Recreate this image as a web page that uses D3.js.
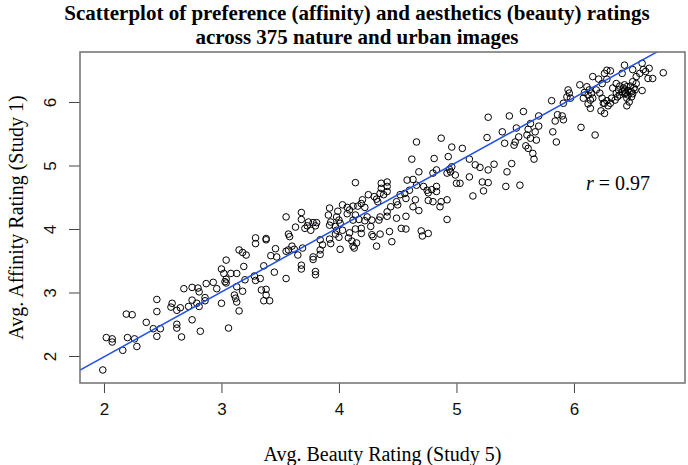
<!DOCTYPE html>
<html><head><meta charset="utf-8">
<script src="https://cdn.jsdelivr.net/npm/d3@7"></script>
<style>body{margin:0;background:#fff}svg{display:block}</style>
</head><body>
<script>
// ---- data: [beauty (Study 5), affinity (Study 1)] ----
const lowImages = [
[1.99,1.78],[2.02,2.29],[2.07,2.27],[2.07,2.22],[2.16,2.09],[2.20,2.29],[2.26,2.27],[2.28,2.15],[2.19,2.66],[2.24,2.65],
[2.36,2.53],[2.42,2.43],[2.48,2.43],[2.45,2.31],[2.45,2.70],[2.45,2.89],[2.58,2.83],[2.57,2.77],[2.62,2.72],[2.65,2.76],
[2.62,2.50],[2.62,2.44],[2.66,2.30],[2.68,3.06],[2.75,3.08],[2.80,3.07],[2.81,3.01],[2.75,2.88],[2.72,2.78],[2.79,2.83],
[2.81,2.78],[2.86,2.92],[2.86,2.87],[2.75,2.57],[2.82,2.39],[2.87,3.14],[2.93,3.16],[2.96,3.06],[3.00,2.83],[3.06,2.44],
[3.00,3.37],[3.04,3.51],[3.02,3.30],[3.04,3.21],[3.03,3.17],[3.04,3.15],[3.08,3.30],[3.13,3.30],[3.11,2.96],[3.12,2.91],
[3.13,2.85],[3.15,2.71],[3.13,3.09],[3.18,3.02],[3.19,3.41],[3.15,3.67],[3.18,3.63],[3.21,3.59],[3.20,3.20],[3.28,3.26],
[3.29,3.19],[3.33,3.22],[3.34,3.04],[3.38,3.05],[3.38,2.96],[3.36,2.87],[3.41,2.87],[3.36,3.42],[3.45,3.32],[3.29,3.77],
[3.38,3.83],[3.42,3.58],[3.46,3.69],[3.47,3.56],[3.29,3.86],[3.38,3.85]
];
const midImages = [
[4.66,5.37],[4.62,5.10],[4.81,5.11],[4.83,4.93],[4.80,4.88],[4.68,4.90],[4.58,4.77],[4.63,4.78],[4.14,4.73],[4.36,4.72],
[4.41,4.74],[4.36,4.64],[4.41,4.67],[4.41,4.59],[4.35,4.56],[4.38,4.54],[4.66,4.69],[4.72,4.67],[4.75,4.61],[4.79,4.62],
[4.76,4.57],[4.83,4.67],[4.83,4.59],[4.60,4.61],[4.56,4.56],[4.52,4.54],[4.49,4.43],[4.50,4.38],[4.57,4.48],[4.65,4.46],
[4.63,4.35],[4.68,4.29],[4.76,4.45],[4.80,4.43],[4.44,4.35],[4.41,4.27],[4.35,4.19],[4.30,4.51],[4.32,4.47],[4.33,4.43],
[4.25,4.54],[4.20,4.46],[4.19,4.40],[4.22,4.34],[4.16,4.36],[4.12,4.36],[4.09,4.30],[4.07,4.34],[4.03,4.38],[3.99,4.28],
[3.92,4.33],[3.91,4.22],[3.93,4.11],[3.98,4.19],[4.00,4.14],[4.01,4.09],[4.07,4.24],[4.12,4.14],[4.14,4.22],[4.17,4.15],
[4.22,4.13],[4.24,4.19],[4.28,4.14],[4.34,4.14],[4.27,4.04],[4.19,4.01],[4.14,4.00],[4.09,3.94],[4.03,3.98],[3.98,3.98],
[3.97,3.92],[4.00,3.87],[4.08,3.86],[4.11,3.81],[4.15,3.78],[4.12,3.73],[4.13,3.70],[4.01,3.68],[4.19,3.93],[4.28,3.91],
[4.29,3.88],[4.35,3.92],[4.32,3.73],[4.43,3.96],[4.45,3.80],[4.53,4.01],[4.57,4.00],[4.57,4.20],[4.49,4.17],[4.41,4.20],
[4.70,3.97],[4.71,3.89],[4.76,3.93],[3.84,3.83],[3.86,3.75],[3.84,3.67],[3.78,3.52],[3.84,3.60],[3.92,3.84],[3.93,3.77],
[3.92,4.06],[3.97,4.04],[3.81,4.10],[3.80,4.05],[3.78,4.10],[3.74,4.11],[3.73,4.05],[3.71,4.01],[3.76,3.98],[3.68,4.26],
[3.68,4.15],[3.63,4.03],[3.57,3.92],[3.55,4.19],[3.58,3.88],[3.60,3.73],[3.57,3.67],[3.55,3.65],[3.62,3.68],[3.69,3.70],
[3.65,3.59],[3.68,3.43],[3.68,3.37],[3.78,3.56],[3.80,3.33],[3.80,3.28],[3.55,3.22],
[4.92,4.15],[4.86,4.35],[4.92,4.46],[4.87,4.43]
];
const highImages = [
[6.76,6.46],[6.67,6.37],[6.63,6.37],[6.64,6.53],[6.58,6.61],[6.59,6.51],[6.61,6.48],[6.56,6.45],[6.53,6.40],[6.50,6.51],
[6.43,6.58],[6.41,6.45],[6.50,6.32],[6.53,6.29],[6.58,6.18],[6.51,6.22],
[6.36,6.29],[6.39,6.25],[6.43,6.27],[6.45,6.24],[6.48,6.25],[6.38,6.19],[6.41,6.16],[6.43,6.19],[6.46,6.18],[6.49,6.16],
[6.52,6.19],[6.39,6.11],[6.43,6.13],[6.46,6.11],[6.36,6.14],[6.33,6.22],[6.49,6.08],[6.45,6.06],[6.47,6.00],[6.45,5.94],
[6.32,6.06],[6.35,6.03],[6.31,5.98],[6.28,6.02],[6.25,5.98],[6.42,6.22],[6.44,6.14],[6.50,6.13],[6.37,6.08],
[6.28,6.50],[6.31,6.49],[6.26,6.45],[6.16,6.40],[6.21,6.36],[6.24,6.29],[6.28,6.36],[6.05,6.27],[6.11,6.24],[6.13,6.19],
[6.09,6.15],[6.12,6.11],[6.15,6.14],[6.08,6.06],[6.14,6.03],[6.12,5.97],[6.14,5.90],[6.16,6.06],[6.19,6.19],[6.22,6.14],
[6.24,6.06],[6.26,5.98],[6.23,5.86],[6.26,5.82],[6.29,5.94],[6.06,5.60],[6.18,5.48],
[5.95,6.19],[5.96,6.14],[5.94,6.08],[5.97,6.06],[5.91,5.98],[5.81,6.02],[5.86,5.80],[5.90,5.78],[5.91,5.72],[5.84,5.70],
[5.70,5.78],[5.57,5.85],[5.45,5.78],[5.27,5.76],[5.63,5.66],[5.61,5.57],[5.70,5.62],[5.67,5.53],[5.60,5.48],[5.63,5.43],
[5.68,5.40],[5.53,5.45],[5.50,5.37],[5.49,5.32],[5.59,5.31],[5.61,5.27],[5.65,5.19],[5.66,5.10],[5.39,5.53],[5.41,5.35],
[5.51,5.59],[5.26,5.44],[5.82,5.53],[5.85,5.37],[4.87,5.43],[4.96,5.29],[5.05,5.27],[4.93,5.14],[4.96,4.98],[4.94,4.94],
[4.95,4.90],[4.92,4.88],[4.99,4.85],[5.00,4.72],[5.03,4.72],[5.11,5.10],[5.16,5.01],[5.20,4.97],[5.27,4.93],[5.32,5.02],
[5.11,4.82],[5.22,4.74],[5.27,4.73],[5.23,4.60],[5.14,4.52],[5.43,4.90],[5.47,5.03],[5.42,4.67],[5.54,4.69]
];
const xTicks = [2, 3, 4, 5, 6];
const yTicks = [2, 3, 4, 5, 6];
const fitIntercept = -0.052, fitSlope = 1.02;
const rText = "0.97";
const titleLines = ["Scatterplot of preference (affinity) and aesthetics (beauty) ratings",
                    "across 375 nature and urban images"];
const xTitle = "Avg. Beauty Rating (Study 5)";
const yTitle = "Avg. Affinity Rating (Study 1)";

// ---- drawing ----
const W = 688, H = 465;
const L = 80, R = 685, T = 52, B = 383;
const x = d3.scaleLinear().domain([1.796, 6.945]).range([L, R]);
const y = d3.scaleLinear().domain([1.575, 6.787]).range([B, T]);
const svg = d3.select("body").append("svg").attr("width", W).attr("height", H);

svg.append("defs").append("clipPath").attr("id", "clip")
  .append("rect").attr("x", L).attr("y", T).attr("width", R - L).attr("height", B - T);

const serif = "'Liberation Serif', 'DejaVu Serif', serif";
const sans = "'Liberation Sans', Arial, sans-serif";

svg.selectAll("text.title").data(titleLines).join("text")
  .attr("x", 357).attr("y", (d, i) => 20 + i * 24)
  .attr("text-anchor", "middle").attr("font-family", serif).attr("font-weight", "bold")
  .attr("font-size", 21).text(d => d);

// axes
const xAxis = d3.axisBottom(x).tickValues(xTicks).tickSize(10).tickPadding(10).tickFormat(d3.format("d"));
const gx = svg.append("g").attr("transform", `translate(0,${B})`).call(xAxis);
gx.select(".domain").remove();
gx.selectAll("line").attr("stroke", "#444");
gx.selectAll("text").attr("font-family", sans).attr("font-size", 17).attr("fill", "#111");

const yAxis = d3.axisLeft(y).tickValues(yTicks).tickSize(11).tickFormat(d3.format("d"));
const gy = svg.append("g").attr("transform", `translate(${L},0)`).call(yAxis);
gy.select(".domain").remove();
gy.selectAll("line").attr("stroke", "#444");
gy.selectAll("text").attr("font-family", sans).attr("font-size", 17).attr("fill", "#111")
  .attr("x", null).attr("dy", null).attr("text-anchor", "middle")
  .attr("transform", d => `translate(-30,0) rotate(-90)`).attr("dy", "0.35em");

// points
const allPts = lowImages.concat(midImages, highImages);
svg.append("g").selectAll("circle").data(allPts).join("circle")
  .attr("cx", d => x(d[0])).attr("cy", d => y(d[1])).attr("r", 3.3)
  .attr("fill", "none").attr("stroke", "#000").attr("stroke-width", 1);

// regression line
const xd = x.domain();
svg.append("line").attr("clip-path", "url(#clip)")
  .attr("x1", x(xd[0])).attr("y1", y(fitIntercept + fitSlope * xd[0]))
  .attr("x2", x(xd[1])).attr("y2", y(fitIntercept + fitSlope * xd[1]))
  .attr("stroke", "#1f4fee").attr("stroke-width", 1.5);

// box
svg.append("rect").attr("x", L).attr("y", T).attr("width", R - L).attr("height", B - T)
  .attr("fill", "none").attr("stroke", "#707070").attr("stroke-width", 1.5);

// r label
const rt = svg.append("text").attr("x", 586).attr("y", 190).attr("font-family", serif).attr("font-size", 20);
rt.append("tspan").attr("font-style", "italic").text("r");
rt.append("tspan").text(" = " + rText);

// axis titles
svg.append("text").attr("x", (L + R) / 2).attr("y", 461).attr("text-anchor", "middle")
  .attr("font-family", serif).attr("font-size", 20).text(xTitle);
svg.append("text").attr("transform", `translate(23,${(T + B) / 2}) rotate(-90)`).attr("text-anchor", "middle")
  .attr("font-family", serif).attr("font-size", 20).text(yTitle);
</script>
</body></html>
